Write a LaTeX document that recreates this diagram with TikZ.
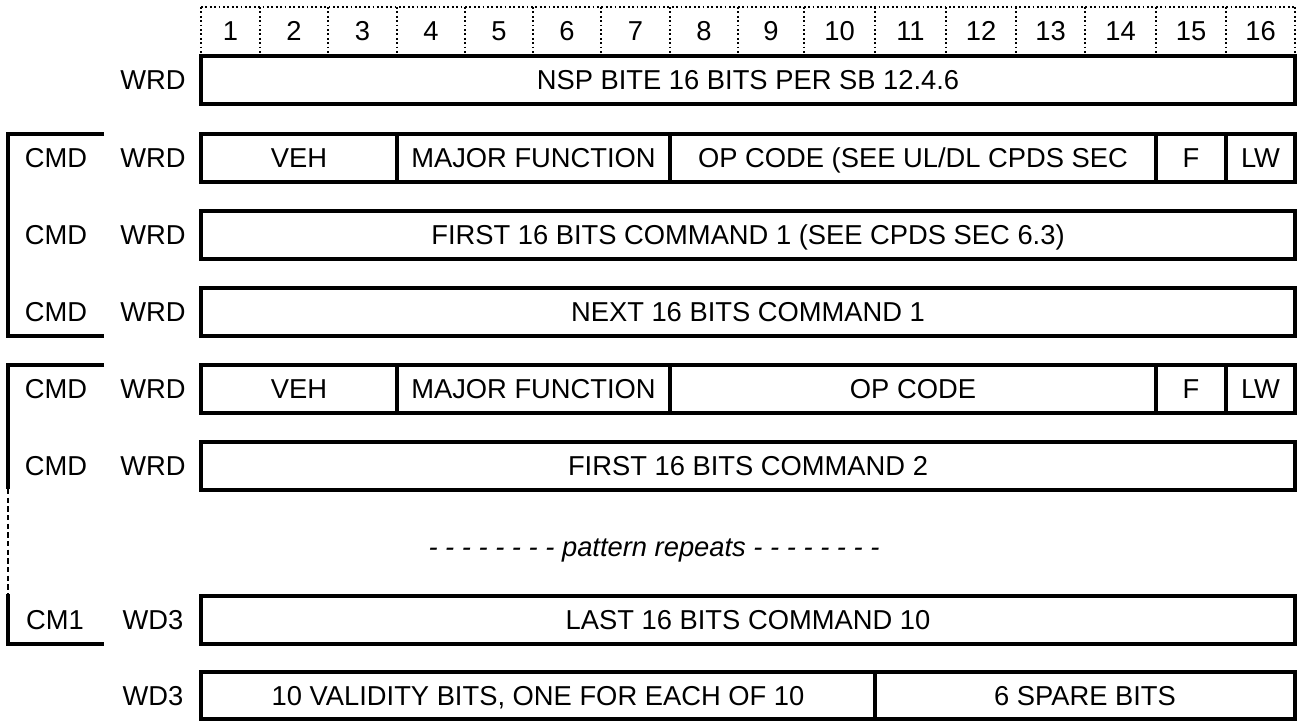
\documentclass[tikz,border=0pt]{standalone}
\usepackage{fontspec}
\setmainfont{Liberation Sans}
\usepackage{tikz}

\tikzset{
	field/.style={line width=2.8pt},
	bitline/.style={line width=1.3pt, dotted},
	brace/.style={line width=2.8pt},
	lbl/.style={font=\fontsize{20.5}{24}\selectfont, inner sep=0pt, text height=14.7pt, text depth=0pt},
	rep/.style={font=\fontsize{20.5}{24}\selectfont\itshape, inner sep=0pt, text height=14.7pt, text depth=0pt},
}

\begin{document}
\begin{tikzpicture}[x=0.75pt,y=-0.75pt]
	\useasboundingbox (0,0) rectangle (1297,721);
	
	% bit numbers
	\draw[bitline] (201,7) -- (1295,7);
	\foreach \x in {201,260,328,397,465,533,601,670,738,804,875,946,1016,1085,1156,1226,1295}
		\draw[bitline] (\x,7) -- (\x,55);
	\foreach \c [count=\i] in {230.5,294,362.5,431,499,567,635.5,704,771,839.5,910.5,981,1050.5,1120.5,1191,1260.5}
		\node[lbl] (bit\i) at (\c,31) {\i};
	
	% fields
	\draw[field] (201,56) rectangle (1295,104);
	\node[lbl] (nsp) at (748,80) {NSP BITE 16 BITS PER SB 12.4.6};
	
	\draw[field] (201,134) rectangle (1295,182);
	\draw[field] (397,134) -- (397,182);
	\draw[field] (670,134) -- (670,182);
	\draw[field] (1156,134) -- (1156,182);
	\draw[field] (1226,134) -- (1226,182);
	\node[lbl] (veha)  at (299,158)  {VEH};
	\node[lbl] (majfa) at (533.5,158) {MAJOR FUNCTION};
	\node[lbl] (opa)   at (913,158)  {OP CODE (SEE UL/DL CPDS SEC};
	\node[lbl] (fa)    at (1191,158) {F};
	\node[lbl] (lwa)   at (1260.5,158) {LW};
	
	\draw[field] (201,211) rectangle (1295,259);
	\node[lbl] (firsta) at (748,235) {FIRST 16 BITS COMMAND 1 (SEE CPDS SEC 6.3)};
	
	\draw[field] (201,288) rectangle (1295,336);
	\node[lbl] (nexta) at (748,312) {NEXT 16 BITS COMMAND 1};
	
	\draw[field] (201,365) rectangle (1295,413);
	\draw[field] (397,365) -- (397,413);
	\draw[field] (670,365) -- (670,413);
	\draw[field] (1156,365) -- (1156,413);
	\draw[field] (1226,365) -- (1226,413);
	\node[lbl] (vehb)  at (299,389)  {VEH};
	\node[lbl] (majfb) at (533.5,389) {MAJOR FUNCTION};
	\node[lbl] (opb)   at (913,389)  {OP CODE};
	\node[lbl] (fb)    at (1191,389) {F};
	\node[lbl] (lwb)   at (1260.5,389) {LW};
	
	\draw[field] (201,442) rectangle (1295,490);
	\node[lbl] (firstb) at (748,466) {FIRST 16 BITS COMMAND 2};
	
	\node[rep] (repeat) at (654,547) {- - - - - - - - pattern repeats - - - - - - - -};
	
	\draw[field] (201,596) rectangle (1295,644);
	\node[lbl] (lastc) at (748,620) {LAST 16 BITS COMMAND 10};
	
	\draw[field] (201,672) rectangle (1295,719);
	\draw[field] (875,672) -- (875,719);
	\node[lbl] (valid) at (538,696) {10 VALIDITY BITS, ONE FOR EACH OF 10};
	\node[lbl] (spare) at (1085,696) {6 SPARE BITS};
	
	% row labels
	\node[lbl] (wrd0) at (153,80)  {WRD};
	\node[lbl] (cmd1) at (56,158)  {CMD};
	\node[lbl] (wrd1) at (153,158) {WRD};
	\node[lbl] (cmd2) at (56,235)  {CMD};
	\node[lbl] (wrd2) at (153,235) {WRD};
	\node[lbl] (cmd3) at (56,312)  {CMD};
	\node[lbl] (wrd3) at (153,312) {WRD};
	\node[lbl] (cmd4) at (56,389)  {CMD};
	\node[lbl] (wrd4) at (153,389) {WRD};
	\node[lbl] (cmd5) at (56,466)  {CMD};
	\node[lbl] (wrd5) at (153,466) {WRD};
	\node[lbl] (cmlast) at (55,620)  {CM1};
	\node[lbl] (wdlast) at (153,620) {WD3};
	\node[lbl] (wdval)  at (153,696) {WD3};
	
	% command brackets
	\draw[brace] (104,134) -- (8,134) -- (8,336) -- (104,336);
	\draw[brace] (104,365) -- (8,365) -- (8,489);
	\draw[line width=2pt, dash pattern=on 4pt off 2.5pt] (8,489) -- (8,594);
	\draw[brace] (8,594) -- (8,644) -- (104,644);
	
\end{tikzpicture}
\end{document}
